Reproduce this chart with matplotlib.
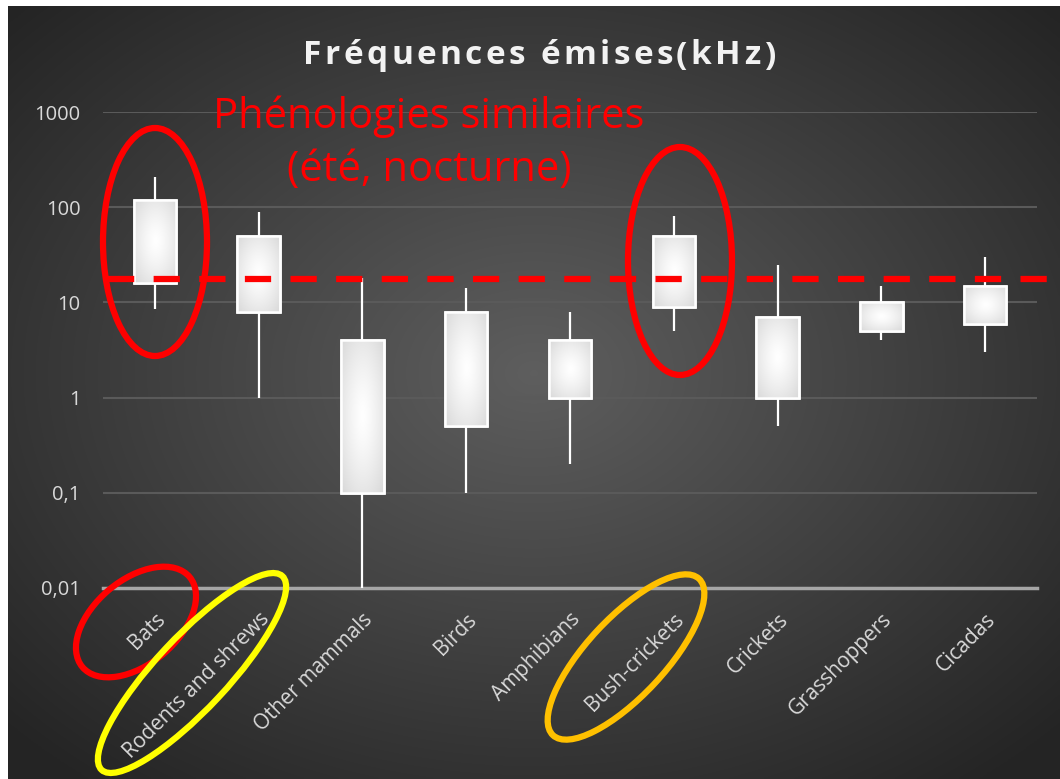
import numpy as np
import matplotlib
matplotlib.use('Agg')
import matplotlib.pyplot as plt
from matplotlib.patches import Ellipse, Rectangle

# data (kHz)
categories = ['Bats', 'Rodents and shrews', 'Other mammals', 'Birds', 'Amphibians',
              'Bush-crickets', 'Crickets', 'Grasshoppers', 'Cicadas']
low = [8.5, 1, 0.01, 0.1, 0.2, 5, 0.5, 4, 3]
q1 = [16, 8, 0.1, 0.5, 1, 9, 1, 5, 6]
q3 = [120, 50, 4, 8, 4, 50, 7, 10, 15]
high = [210, 90, 18, 14, 8, 80, 25, 15, 30]
threshold = 17.5
yticks = [0.01, 0.1, 1, 10, 100, 1000]
ytick_labels = ['0,01', '0,1', '1', '10', '100', '1000']
title = 'Fréquences émises(kHz)'
note = 'Phénologies similaires\n(été, nocturne)'

W, H = 1060, 779
fig = plt.figure(figsize=(W / 100, H / 100), dpi=100)
fig.patch.set_facecolor('white')
fonts = ['Open Sans', 'DejaVu Sans']

# background: radial gradient, lighter in the middle
bg = fig.add_axes([8 / W, 0, 1 - 8 / W, 1 - 6 / H], zorder=-10)
gx, gy = np.meshgrid(np.linspace(-1, 1, 400), np.linspace(-1, 1, 300))
r = np.clip(np.sqrt(gx ** 2 + (gy + 0.05) ** 2) / 1.35, 0, 1)
shade = 0.37 - (0.37 - 0.145) * r
bg.imshow(np.dstack([shade] * 3), extent=(0, 1, 0, 1), aspect='auto', interpolation='bilinear')
bg.set_axis_off()

ax = fig.add_axes([103 / W, 1 - 588 / H, (1037 - 103) / W, (588 - 112) / H])
ax.patch.set_alpha(0)
ax.set_yscale('log')
x = np.arange(len(categories))

ax.set_yticks(yticks)
ax.set_yticklabels(ytick_labels)
ax.yaxis.set_minor_locator(matplotlib.ticker.NullLocator())
ax.tick_params(axis='y', length=0, pad=16, labelsize=14.5, labelcolor='#d9d9d9')
ax.set_xticks(x)
ax.set_xticklabels(categories, rotation=45, ha='right', rotation_mode='anchor')
ax.tick_params(axis='x', length=0, pad=15, labelsize=15, labelcolor='#d9d9d9')
for lab in ax.get_xticklabels() + ax.get_yticklabels():
    lab.set_family(fonts)
for s in ax.spines.values():
    s.set_visible(False)
ax.grid(axis='y', color='#5a5a5a', lw=1.5)
ax.axhline(0.01, color='#a6a6a6', lw=2.5, zorder=2, clip_on=False)

# whiskers
ax.vlines(x, low, high, color='white', lw=1.6, zorder=3)

# boxes with a white centre fading to light grey
bw = 0.41
for xi, a, b in zip(x, q1, q3):
    rect = Rectangle((xi - bw / 2, a), bw, b - a, facecolor='#d9d9d9',
                     edgecolor='white', lw=1.8, zorder=4)
    ax.add_patch(rect)
    vals = np.linspace(a, b, 300)
    t = (np.log10(vals) - np.log10(a)) / (np.log10(b) - np.log10(a))
    u = np.linspace(0, 1, 60)
    d = np.sqrt((2 * u[None, :] - 1) ** 2 + (2 * t[:, None] - 1) ** 2) / np.sqrt(2)
    c = 1.0 - 0.15 * np.clip(d, 0, 1) ** 1.3
    im = ax.imshow(np.dstack([c] * 3), extent=(xi - bw / 2, xi + bw / 2, a, b),
                   origin='lower', aspect='auto', interpolation='bilinear', zorder=4.5)
    im.set_clip_path(rect)
    ax.add_patch(Rectangle((xi - bw / 2, a), bw, b - a, facecolor='none',
                           edgecolor='white', lw=1.8, zorder=5))

ax.set_xlim(-0.5, len(categories) - 0.5)
ax.set_ylim(0.01, 1000)

# dashed red threshold line (runs to the right edge of the picture)
ax.plot([-0.45, len(categories) - 0.5 + 0.25], [threshold, threshold], color='red',
        lw=4.5, dashes=(4.2, 3.1), zorder=6, clip_on=False)

# title with wide letter spacing
renderer = fig.canvas.get_renderer()
spacing = 3.4
tsize = 24
parts = []
for ch in title:
    t = fig.text(0, 0, ch, fontsize=tsize, fontweight='bold', color='#f2f2f2',
                 family=fonts, va='center', ha='left')
    w = t.get_window_extent(renderer).width
    if ch == ' ':
        w = tsize * 0.26 * 100 / 72
    parts.append((t, w))
total = sum(w for _, w in parts) + spacing * (len(parts) - 1)
xpos = 539 - total / 2
for t, w in parts:
    t.set_position((xpos / W, 1 - 56 / H))
    xpos += w + spacing

fig.text(429 / W, 1 - 143 / H, note, ha='center', va='center', fontsize=30,
         color='red', linespacing=1.35, family=fonts)

# hand-drawn highlight ellipses, in picture pixels
ov = fig.add_axes([0, 0, 1, 1], zorder=10)
ov.set_xlim(0, W)
ov.set_ylim(H, 0)
ov.set_axis_off()
ov.patch.set_alpha(0)
ov.add_patch(Ellipse((155, 242), 104, 228, fill=False, ec='red', lw=4.5))
ov.add_patch(Ellipse((680, 261), 104, 228, fill=False, ec='red', lw=4.5))
ov.add_patch(Ellipse((136, 622), 140, 84, angle=-40, fill=False, ec='red', lw=4.5))
ov.add_patch(Ellipse((192, 673), 265, 72, angle=-47, fill=False, ec='yellow', lw=4.5))
ov.add_patch(Ellipse((626, 657), 214, 78, angle=-47, fill=False, ec='#ffc000', lw=4.5))

fig.savefig('out.png', dpi=100, facecolor=fig.get_facecolor())
